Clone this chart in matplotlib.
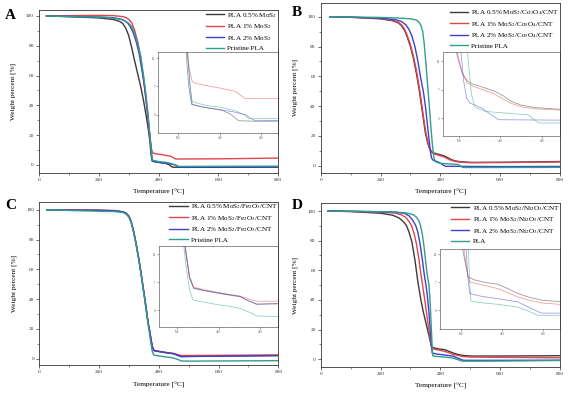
import matplotlib
matplotlib.use("Agg")
import matplotlib.pyplot as plt
from matplotlib.ticker import MultipleLocator, FixedLocator

plt.rcParams['font.family'] = ['Liberation Serif', 'DejaVu Serif']
plt.rcParams['mathtext.fontset'] = 'stix'

# ---------------- Panel A data ----------------
A_labels = ["PLA 0.5% MoS$_2$", "PLA 1% MoS$_2$", "PLA 2% MoS$_2$", "Pristine PLA"]
A_T1 = [25, 100, 200, 250, 270, 280, 290, 300, 310, 320, 330, 340, 350, 358, 365, 371, 375, 379, 390, 405, 423, 435, 447, 470, 600, 800]
A_W1 = [100, 99.5, 98.7, 97.6, 96.3, 95, 92, 87, 79, 70, 61.5, 53, 43, 34, 25, 16, 7, 2.6, 2.1, 1.6, 1.1, 0.2, -1.5, -1.6, -1.6, -1.5]
A_T2 = [25, 100, 200, 250, 280, 290, 300, 310, 320, 330, 340, 350, 356, 362, 367, 372, 376, 380, 384, 400, 420, 442, 450, 457, 600, 800]
A_W2 = [100, 100.2, 100.4, 100.2, 99.6, 99, 97.8, 95.5, 90.5, 83, 73, 58, 47, 36, 26, 17, 11, 8.3, 7.8, 7.2, 6.6, 5.8, 4.8, 4.0, 4.1, 4.6]
A_T3 = [25, 100, 200, 250, 280, 295, 305, 315, 325, 335, 345, 352, 358, 363, 368, 373, 377, 380, 395, 423, 440, 457, 471, 600, 800]
A_W3 = [100, 99.7, 99.3, 98.8, 97.6, 95.6, 93, 89, 83, 75, 63, 54, 45, 36, 26, 16, 7, 2.5, 1.9, 1.2, 0.7, 0, -1.5, -1.4, -1.3]
A_T4 = [25, 100, 200, 250, 280, 300, 310, 320, 330, 340, 350, 357, 363, 368, 373, 377, 380, 400, 423, 442, 455, 462, 600, 800]
A_W4 = [100, 99.6, 99.2, 98.6, 97.4, 95.2, 92.8, 88.5, 82, 73, 60, 49, 38, 27, 16, 7, 3.2, 2.3, 1.8, 1.0, 0, -1.0, -0.9, -0.8]

# ---------------- Panel B data ----------------
B_labels = ["PLA 0.5% MoS$_2$/Co$_3$O$_4$/CNT", "PLA 1% MoS$_2$/Co$_3$O$_4$/CNT",
            "PLA 2% MoS$_2$/Co$_3$O$_4$/CNT", "Pristine PLA"]
B_T1 = [30, 100, 200, 240, 260, 270, 280, 290, 300, 310, 320, 330, 340, 350, 358, 365, 372, 380, 395, 412, 425, 436, 450, 470, 503, 600, 700, 800]
B_W1 = [100, 99.6, 98.6, 97.3, 95.8, 94, 91, 86, 80, 72, 62, 50, 36, 22, 15, 11, 9.2, 8.4, 7.6, 6.6, 5.4, 4.1, 3.2, 2.6, 2.2, 2.3, 2.5, 2.8]
B_T2 = [30, 100, 200, 240, 260, 270, 280, 290, 300, 310, 320, 330, 340, 350, 358, 365, 372, 380, 395, 412, 425, 436, 450, 470, 503, 600, 700, 800]
B_W2 = [100, 99.7, 98.8, 97.6, 96.2, 94.6, 91.8, 87, 81, 73.5, 64, 52, 38, 24, 16, 11, 8.7, 7.9, 7.0, 5.9, 4.6, 3.6, 2.8, 2.3, 2.0, 2.1, 2.3, 2.5]
B_T3 = [30, 100, 200, 250, 270, 285, 295, 305, 315, 325, 335, 343, 350, 356, 362, 367, 371, 376, 393, 405, 417, 500, 600, 800]
B_W3 = [100, 99.7, 99, 98, 96.8, 94.5, 91.5, 87, 80, 70, 58, 50, 40, 29, 18, 9, 5, 3.7, 2.5, 1.0, -0.4, -0.5, -0.6, -0.5]
B_T4 = [30, 100, 200, 250, 300, 320, 330, 336, 341, 346, 352, 358, 363, 368, 373, 378, 383, 398, 430, 460, 475, 500, 600, 800]
B_W4 = [100, 99.8, 99.5, 99.2, 98.6, 97.8, 96, 93.5, 90, 82, 68, 53, 40, 27, 15, 6, 2.7, 1.65, 1.2, 0.8, -1.2, -1.2, -1.2, -1.1]

# ---------------- Panel C data ----------------
C_labels = ["PLA 0.5% MoS$_2$/Fe$_2$O$_3$/CNT", "PLA 1% MoS$_2$/Fe$_2$O$_3$/CNT",
            "PLA 2% MoS$_2$/Fe$_2$O$_3$/CNT", "Pristine PLA"]
C_T = [25, 100, 200, 250, 280, 290, 300, 308, 316, 324, 332, 340, 348, 354, 360, 365, 369, 373, 378, 384, 400, 422, 440, 451, 461, 475, 500, 600, 800]
C_W1 = [100, 99.8, 99.6, 99.3, 98.5, 97.6, 95.5, 91.5, 85, 77, 68, 58, 47, 39, 30, 23, 19, 14, 8, 5.4, 4.8, 4.1, 3.6, 3.3, 2.5, 1.5, 1.6, 1.8, 2.2]
C_W2 = [100, 99.9, 99.7, 99.5, 98.7, 97.8, 95.7, 91.8, 85.5, 77.5, 68.5, 58.5, 47.5, 39.5, 30.5, 23.5, 19.5, 14.5, 8.5, 5.7, 5.0, 4.3, 3.8, 3.5, 2.9, 2.2, 2.2, 2.3, 2.6]
C_W3 = [100, 99.8, 99.6, 99.3, 98.6, 97.7, 95.6, 91.6, 85.2, 77.2, 68.2, 58.2, 47.2, 39.2, 30.2, 23.2, 19.2, 14.2, 8.2, 5.5, 4.9, 4.2, 3.7, 3.4, 2.4, 1.4, 1.5, 1.7, 2.1]
C_T4 = [25, 100, 200, 250, 280, 290, 300, 308, 316, 324, 332, 340, 348, 354, 360, 365, 369, 373, 378, 383, 400, 422, 440, 451, 465, 475, 500, 600, 800]
C_W4 = [100, 99.5, 99.0, 98.8, 98.2, 97.2, 95, 91, 84.5, 76.5, 67.5, 57.5, 46.5, 38, 29, 22, 17, 11, 5, 2.5, 1.9, 1.25, 0.8, 0.4, -0.6, -1.5, -1.6, -1.5, -1.3]

# ---------------- Panel D data ----------------
D_labels = ["PLA 0.5% MoS$_2$/Ni$_2$O$_3$/CNT", "PLA 1% MoS$_2$/Ni$_2$O$_3$/CNT",
            "PLA 2% MoS$_2$/Ni$_2$O$_3$/CNT", "PLA"]
D_T1 = [25, 100, 200, 240, 260, 270, 280, 287, 295, 305, 315, 325, 335, 343, 350, 356, 362, 367, 371, 380, 395, 414, 430, 443, 460, 479, 503, 600, 800]
D_W1 = [100, 99.6, 98.5, 97.2, 95.5, 94, 92, 90, 86, 79, 67, 52, 40, 32, 26, 21, 16, 11.5, 8.3, 7.6, 7.0, 6.5, 5.3, 4.2, 3.2, 2.5, 2.2, 2.2, 2.4]
D_T2 = [25, 100, 200, 250, 270, 285, 295, 304, 312, 320, 328, 336, 342, 348, 354, 360, 365, 369, 373, 390, 414, 430, 443, 460, 479, 503, 600, 800]
D_W2 = [100, 99.8, 99.3, 98.6, 97.4, 95.6, 93, 90, 85, 78, 68, 56, 48, 40, 31, 22, 15, 10, 7.1, 6.4, 5.4, 4.3, 3.3, 2.5, 1.8, 1.5, 1.3, 1.0]
D_T3 = [25, 100, 200, 250, 280, 295, 305, 312, 318, 325, 332, 340, 347, 352, 357, 362, 367, 370, 373, 390, 414, 443, 458, 477, 600, 800]
D_W3 = [100, 99.8, 99.5, 99.2, 98.4, 96.8, 94.5, 92.3, 90, 85.5, 78, 67, 56, 50, 42, 31, 18, 9, 4.2, 3.5, 2.9, 2.1, 0.8, -0.7, -0.7, -0.6]
D_T4 = [25, 100, 200, 250, 290, 310, 320, 328, 334, 340, 346, 352, 357, 362, 366, 370, 373, 375, 390, 414, 443, 458, 472, 600, 800]
D_W4 = [100, 99.8, 99.5, 99.3, 98.6, 97.5, 95.8, 93.5, 90, 84, 75, 64, 56, 50, 38, 20, 7, 2.3, 1.9, 1.5, 0.8, -0.2, -1.25, -1.2, -0.8]

COLORS = ["#3a3a3a", "#e2454a", "#4040cc", "#2f9e8c"]
MAIN_XTICKS = [0, 200, 400, 600, 800]
MAIN_YTICKS = [0, 20, 40, 60, 80, 100]
INSET_XTICKS = [360, 420, 480]
INSET_YTICKS = [0, 7, 14]

FW, FH = 571, 397
fig = plt.figure(figsize=(FW / 100, FH / 100), dpi=100)


def rect(l, t, r, b):
    return [l / FW, 1 - b / FH, (r - l) / FW, (b - t) / FH]


SPINE = "#333333"


def style(ax, lw=0.6):
    for s in ax.spines.values():
        s.set_linewidth(lw)
        s.set_color(SPINE)


def panel(main_r, inset_r, series, labels, ylim, ixlim, iylim, letter, letter_xy,
          leg_anchor):
    ax = fig.add_axes(rect(*main_r))
    for (t, w), c, lab in zip(series, COLORS, labels):
        ax.plot(t, w, color=c, lw=1.0, label=lab)
    ax.set_xlim(0, 800)
    ax.set_ylim(*ylim)
    ax.set_xticks(MAIN_XTICKS)
    ax.set_yticks(MAIN_YTICKS)
    ax.xaxis.set_minor_locator(MultipleLocator(100))
    ax.yaxis.set_minor_locator(MultipleLocator(10))
    ax.tick_params(which='major', direction='out', length=2.2, width=0.5,
                   labelsize=3.8, pad=1.5, colors=SPINE)
    ax.tick_params(which='minor', direction='out', length=1.2, width=0.4, colors=SPINE)
    style(ax)
    ax.set_xlabel("Temperature [°C]", fontsize=5.2, labelpad=5)
    ax.set_ylabel("Weight percent [%]", fontsize=5.2, labelpad=7)

    ins = fig.add_axes(rect(*inset_r))
    for (t, w), c in zip(series, COLORS):
        ins.plot(t, w, color=c, lw=0.55, alpha=0.55)
    ins.set_xlim(*ixlim)
    ins.set_ylim(*iylim)
    ins.xaxis.set_major_locator(FixedLocator(INSET_XTICKS))
    ins.yaxis.set_major_locator(FixedLocator(INSET_YTICKS))
    ins.xaxis.set_minor_locator(MultipleLocator(30))
    ins.tick_params(which='major', direction='out', length=1.3, width=0.4,
                    labelsize=2.2, pad=1.0, colors="#555555")
    ins.tick_params(which='minor', direction='out', length=0.8, width=0.3, colors="#555555")
    style(ins, lw=0.5)
    for s in ins.spines.values():
        s.set_color("#666666")

    # keep legend on top of the inset
    ax.set_zorder(ins.get_zorder() + 1)
    ax.patch.set_visible(False)
    ax.legend(loc='upper right', bbox_to_anchor=leg_anchor, frameon=False,
              fontsize=5.1, handlelength=2.6, handletextpad=0.45,
              labelspacing=0.36, borderpad=0.1, borderaxespad=0.0)
    fig.text(letter_xy[0] / FW, 1 - letter_xy[1] / FH, letter, fontsize=11,
             fontweight='bold', ha='left', va='top')
    return ax


panel((39, 10, 278, 172.7), (158.3, 51.7, 278, 133.3),
      [(A_T1, A_W1), (A_T2, A_W2), (A_T3, A_W3), (A_T4, A_W4)], A_labels,
      (-5.2, 104), (331, 504), (-4.6, 15.6), "A", (5, 9), (1.0, 1.0))

panel((320.7, 2.7, 560, 172.7), (443, 51.7, 560, 135.5),
      [(B_T1, B_W1), (B_T2, B_W2), (B_T3, B_W3), (B_T4, B_W4)], B_labels,
      (-4.7, 109.4), (337, 506), (-4.3, 16.4), "B", (292, 6), (1.0, 0.97))

panel((39.3, 201.7, 278.3, 365.3), (159, 246, 278.3, 327),
      [(C_T, C_W1), (C_T, C_W2), (C_T, C_W3), (C_T4, C_W4)], C_labels,
      (-4.4, 105.4), (334, 506), (-4.25, 16), "C", (5, 199), (1.0, 1.0))

panel((320.7, 203, 560, 367), (440, 248.7, 560, 328.7),
      [(D_T1, D_W1), (D_T2, D_W2), (D_T3, D_W3), (D_T4, D_W4)], D_labels,
      (-5.2, 105.4), (330, 504), (-4.6, 15.4), "D", (292, 199), (1.0, 1.0))

fig.savefig("out.png", dpi=100)
